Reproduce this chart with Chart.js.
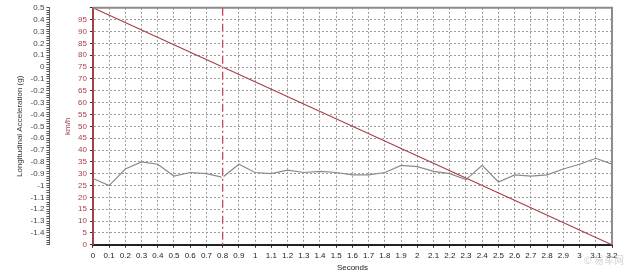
<!DOCTYPE html>
<html>
<head>
<meta charset="utf-8">
<script src="https://cdn.jsdelivr.net/npm/chart.js@4.4.0/dist/chart.umd.min.js"></script>
<style>
    html, body { margin: 0; padding: 0; background: #ffffff; }
    #wrap { width: 630px; height: 276px; position: relative; }
</style>
</head>
<body>
<div id="wrap"><canvas id="brake-chart" width="630" height="276"></canvas></div>
<script>
// Temps (s) des mesures d'accélération
const accelTimes = [0, 0.1, 0.2, 0.3, 0.4, 0.5, 0.6, 0.7, 0.8, 0.9, 1.0, 1.1, 1.2, 1.3, 1.4, 1.5, 1.6,
    1.7, 1.8, 1.9, 2.0, 2.1, 2.2, 2.3, 2.4, 2.5, 2.6, 2.7, 2.8, 2.9, 3.0, 3.1, 3.2];
// Accélération longitudinale (g)
const accelValues = [-0.94, -1.00, -0.86, -0.80, -0.82, -0.92, -0.89, -0.90, -0.93, -0.82, -0.89,
    -0.90, -0.87, -0.89, -0.88, -0.89, -0.91, -0.91, -0.89, -0.83, -0.84, -0.88, -0.90, -0.95,
    -0.83, -0.97, -0.91, -0.92, -0.91, -0.86, -0.82, -0.77, -0.82];
// Vitesse (km/h)
const speedTimes = [0, 0.8, 1.6, 2.4, 3.2];
const speedValues = [100, 75, 50, 25, 0];
// Repère vertical
const markerTime = 0.8;

const RED = '#a8404a';

/**
 * Formate un nombre avec une décimale au plus
 */
function fmt(v) {
    const r = Math.round(v * 10) / 10;
    return String(Object.is(r, -0) ? 0 : r);
}

// Plugin : cadre du graphique, ligne verticale en pointillés, filigrane
const markerPlugin = {
    id: 'marker',
    afterDatasetsDraw(chart) {
        const ctx = chart.ctx;
        const area = chart.chartArea;
        const x = chart.scales.x.getPixelForValue(markerTime);
        ctx.save();
        // Cadre haut et droit
        ctx.strokeStyle = '#8c8c8c';
        ctx.lineWidth = 2;
        ctx.beginPath();
        ctx.moveTo(area.left, area.top);
        ctx.lineTo(area.right, area.top);
        ctx.lineTo(area.right, area.bottom);
        ctx.stroke();
        // Repère vertical (on masque d'abord la grille en dessous)
        ctx.strokeStyle = '#ffffff';
        ctx.lineWidth = 2;
        ctx.beginPath();
        ctx.moveTo(x, area.top + 2);
        ctx.lineTo(x, area.bottom - 1);
        ctx.stroke();
        ctx.strokeStyle = '#c8485a';
        ctx.lineWidth = 1.3;
        ctx.setLineDash([8, 3, 2, 3]);
        ctx.beginPath();
        ctx.moveTo(x, area.top);
        ctx.lineTo(x, area.bottom);
        ctx.stroke();
        ctx.restore();
    },
    afterDraw(chart) {
        const ctx = chart.ctx;
        ctx.save();
        ctx.fillStyle = 'rgba(170,170,170,0.5)';
        ctx.font = '10px "Noto Sans CJK SC"';
        ctx.textAlign = 'right';
        ctx.fillText('© 易车网', 624, 264);
        ctx.restore();
    }
};

const gridDotted = {
    color: '#9a9a9a',
    lineWidth: 1,
    drawTicks: true,
    tickLength: 3,
    tickColor: '#333'
};

const ctx = document.getElementById('brake-chart').getContext('2d');
new Chart(ctx, {
    type: 'line',
    data: {
        datasets: [
            {
                label: 'km/h',
                data: speedTimes.map((t, i) => ({ x: t, y: speedValues[i] })),
                yAxisID: 'ySpeed',
                borderColor: RED,
                borderWidth: 1.2,
                pointRadius: 0,
                tension: 0
            },
            {
                label: 'Longitudinal Acceleration (g)',
                data: accelTimes.map((t, i) => ({ x: t, y: accelValues[i] })),
                yAxisID: 'yAccel',
                borderColor: '#8a8a8a',
                borderWidth: 1.2,
                pointRadius: 0,
                tension: 0
            }
        ]
    },
    plugins: [markerPlugin],
    options: {
        responsive: false,
        animation: false,
        devicePixelRatio: 1,
        layout: { padding: { top: 5, right: 18, bottom: 3, left: 15 } },
        plugins: {
            legend: { display: false },
            tooltip: { enabled: false }
        },
        scales: {
            x: {
                type: 'linear',
                min: 0,
                max: 3.2,
                grid: gridDotted,
                border: { display: true, color: '#222', width: 2, dash: [2, 2] },
                ticks: {
                    stepSize: 0.1,
                    autoSkip: false,
                    maxRotation: 0,
                    color: '#222',
                    font: { family: 'Liberation Sans', size: 8 },
                    padding: 3,
                    callback: (v) => fmt(v)
                },
                title: {
                    display: true,
                    text: 'Seconds',
                    color: '#222',
                    font: { family: 'Liberation Sans', size: 8 },
                    padding: { top: 0, bottom: 0 }
                }
            },
            ySpeed: {
                position: 'left',
                weight: 0,
                min: 0,
                max: 100,
                grid: gridDotted,
                border: { display: true, color: RED, width: 2, dash: [2, 2] },
                ticks: {
                    stepSize: 5,
                    autoSkip: false,
                    color: RED,
                    font: { family: 'Liberation Sans', size: 8 },
                    padding: 3,
                    callback: (v) => (v >= 100 ? '' : fmt(v))
                },
                title: {
                    display: true,
                    text: 'km/h',
                    color: RED,
                    font: { family: 'Liberation Sans', size: 8 },
                    padding: { top: 14, bottom: 2 }
                }
            },
            yAccel: {
                position: 'left',
                weight: 1,
                min: -1.5,
                max: 0.5,
                grid: {
                    drawOnChartArea: false,
                    tickLength: 3,
                    tickColor: '#555'
                },
                border: { display: true, color: '#666', width: 1 },
                ticks: {
                    stepSize: 0.02,
                    autoSkip: false,
                    color: '#444',
                    font: { family: 'Liberation Sans', size: 8 },
                    padding: 2,
                    callback: (v) => {
                        const tenth = Math.round(v * 10);
                        if (Math.abs(v * 10 - tenth) > 1e-6 || tenth <= -15) return '';
                        return fmt(v);
                    }
                },
                title: {
                    display: true,
                    text: 'Longitudinal Acceleration (g)',
                    color: '#333',
                    font: { family: 'Liberation Sans', size: 8 },
                    padding: { top: 0, bottom: 4 }
                }
            }
        }
    }
});
</script>
</body>
</html>
